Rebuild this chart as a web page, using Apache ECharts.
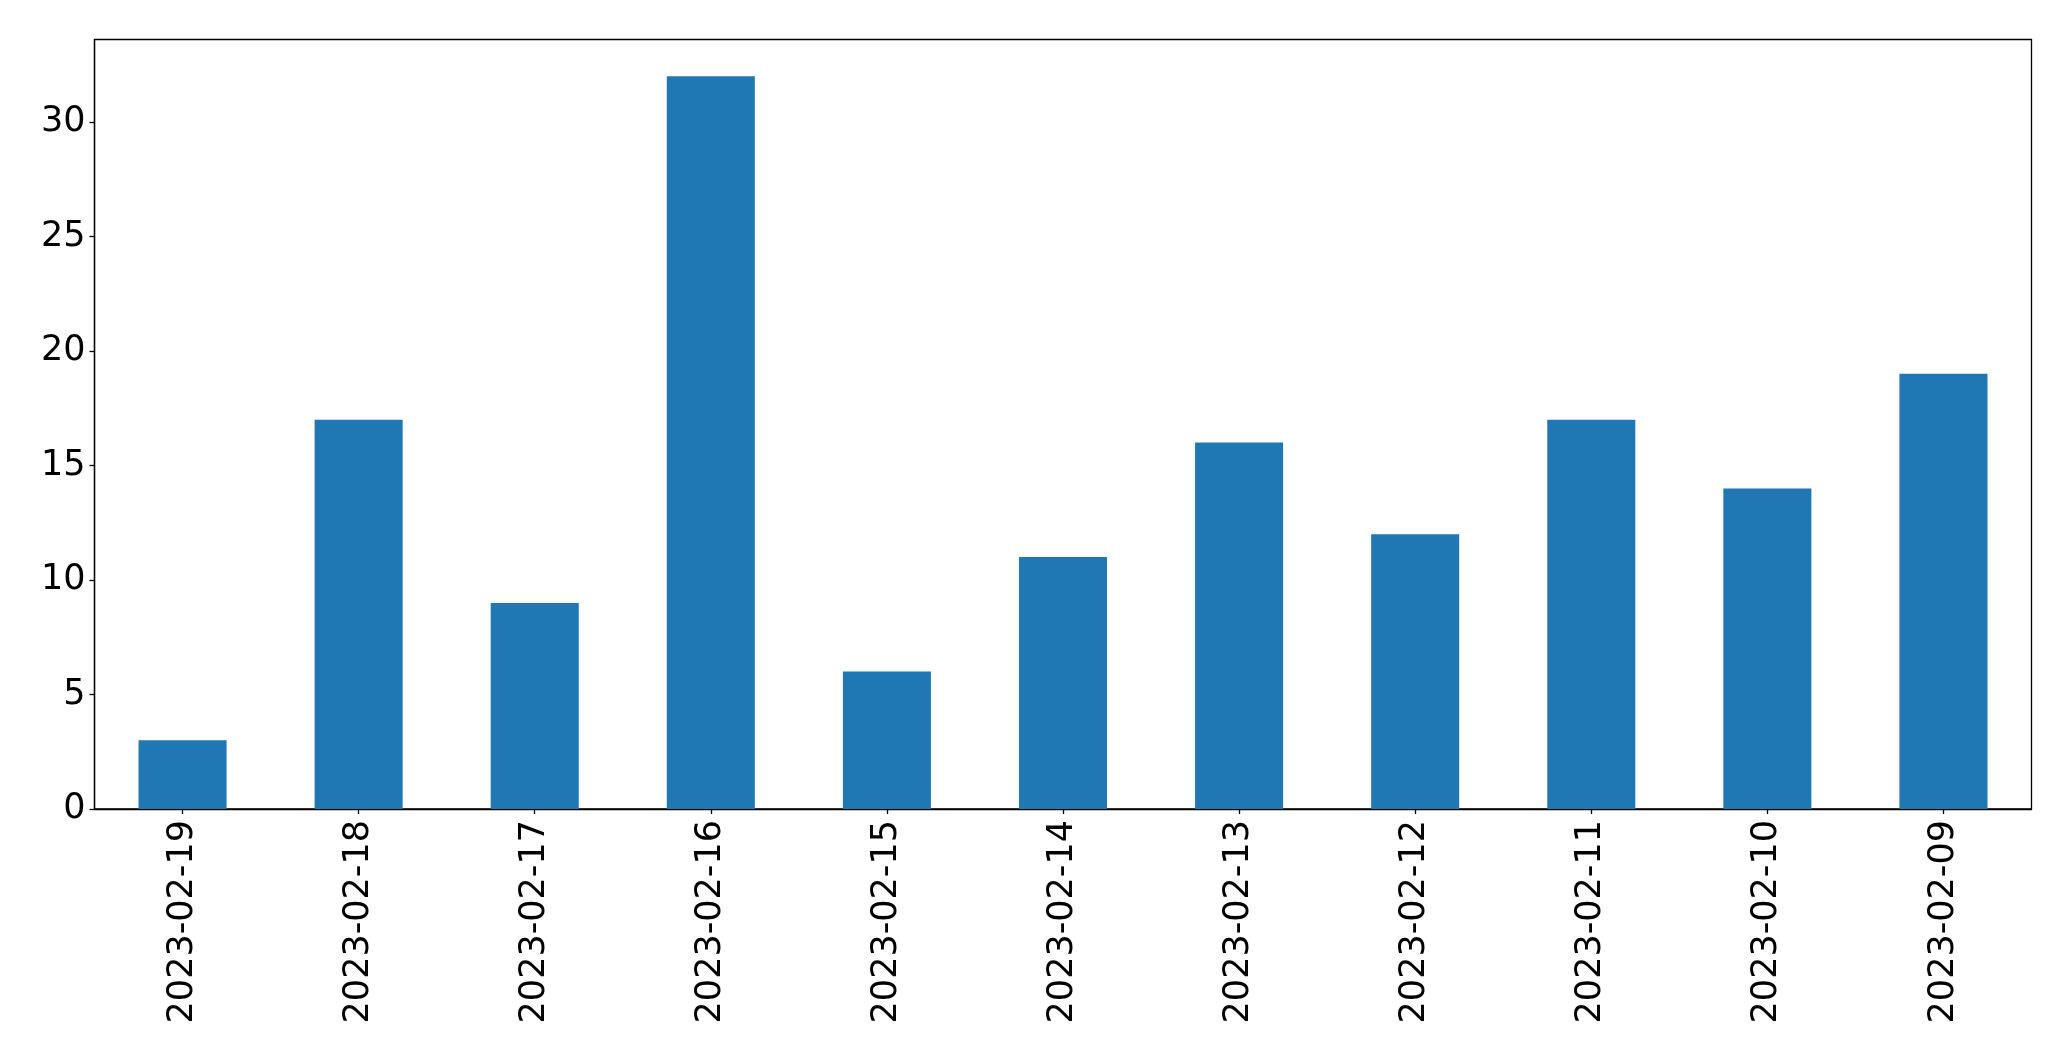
<!DOCTYPE html>
<html>
<head>
<meta charset="utf-8">
<script src="https://cdn.jsdelivr.net/npm/echarts@6/dist/echarts.min.js"></script>
<style>html,body{margin:0;padding:0;background:#fff;}#c{width:2071px;height:1061px;}</style>
</head>
<body>
<div id="c"></div>
<script>
const categories = ['2023-02-19','2023-02-18','2023-02-17','2023-02-16','2023-02-15','2023-02-14','2023-02-13','2023-02-12','2023-02-11','2023-02-10','2023-02-09'];
const values = [3, 17, 9, 32, 6, 11, 16, 12, 17, 14, 19];
const yTicks = [0, 5, 10, 15, 20, 25, 30];

const chart = echarts.init(document.getElementById('c'), null, {renderer: 'canvas'});
chart.setOption({
  animation: false,
  backgroundColor: '#ffffff',
  textStyle: {fontFamily: 'DejaVu Sans'},
  grid: {left: 94.5, right: 39.5, top: 39.5, bottom: 252, show: true, borderColor: '#000', borderWidth: 1.3, backgroundColor: 'transparent'},
  xAxis: {
    type: 'category',
    data: categories,
    boundaryGap: true,
    axisLine: {show: true, lineStyle: {color: '#000', width: 1.3}},
    axisTick: {show: true, alignWithLabel: true, length: 5, lineStyle: {color: '#000', width: 1.3}},
    axisLabel: {rotate: 90, interval: 0, fontSize: 35, color: '#000', margin: 11, fontFamily: 'DejaVu Sans'},
    splitLine: {show: false}
  },
  yAxis: {
    type: 'value',
    min: 0,
    max: 33.6,
    interval: 5,
    axisLine: {show: true, lineStyle: {color: '#000', width: 1.3}},
    axisTick: {show: true, length: 5, lineStyle: {color: '#000', width: 1.3}, customValues: yTicks},
    axisLabel: {fontSize: 35, color: '#000', margin: 9, fontFamily: 'DejaVu Sans', customValues: yTicks},
    splitLine: {show: false}
  },
  series: [{
    type: 'bar',
    data: values,
    barWidth: '50%',
    itemStyle: {color: '#1f77b4'}
  }]
});
</script>
</body>
</html>
